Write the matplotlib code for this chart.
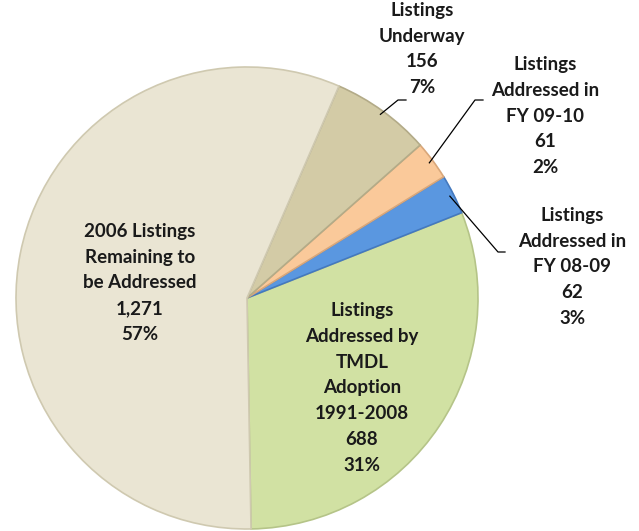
import matplotlib.pyplot as plt
import numpy as np

# slices, counterclockwise starting at the bottom
labels = ['Listings\nAddressed by\nTMDL\nAdoption\n1991-2008\n688\n31%',
          'Listings\nAddressed in\nFY 08-09\n62\n3%',
          'Listings\nAddressed in\nFY 09-10\n61\n2%',
          'Listings\nUnderway\n156\n7%',
          '2006 Listings\nRemaining to\nbe Addressed\n1,271\n57%']
values = [688, 62, 61, 156, 1271]
colors = ['#D1E1A3', '#5A97E0', '#FAC99A', '#D3CBA6', '#EAE5D3']
edges = ['#B5C488', '#4479BE', '#D9A77A', '#B3AB88', '#CFC9B0']

W, H = 639, 531
fig = plt.figure(figsize=(W / 100, H / 100), dpi=100)
ax = fig.add_axes([0, 0, 1, 1])

cx, cy, r = 247, H - 298, 231

wedges, _ = ax.pie(values, colors=colors, startangle=-89, counterclock=True,
                   center=(cx, cy), radius=r, frame=True,
                   wedgeprops=dict(linewidth=1.2))
for w, ec in zip(wedges, edges):
    w.set_edgecolor(ec)
ax.set_xlim(0, W)
ax.set_ylim(0, H)
ax.set_aspect('equal')
ax.axis('off')

font = dict(family=['Lato', 'DejaVu Sans'], fontsize=13.5, fontweight='bold',
            color='#1a1a1a', ha='center', va='center', linespacing=1.62)

# labels inside the big slices
ax.text(140, H - 283, labels[4], **font)
ax.text(362, H - 388, labels[0], **font)

# outside labels with leader lines
outside = [
    (3, (422, 49), (398, 100), (406, 100)),
    (2, (545, 116), (475, 100), (483, 100)),
    (1, (572, 267), (498, 252), (505, 252)),
]
for i, (tx, ty), (kx, ky), (ex, ey) in outside:
    w = wedges[i]
    mid = np.deg2rad((w.theta1 + w.theta2) / 2)
    sx = cx + (r - 4) * np.cos(mid)
    sy = cy + (r - 4) * np.sin(mid)
    ax.plot([sx, kx, ex], [sy, H - ky, H - ey], color='black', lw=0.9)
    ax.text(tx, H - ty, labels[i], **font)

fig.savefig('out.png', dpi=100)
